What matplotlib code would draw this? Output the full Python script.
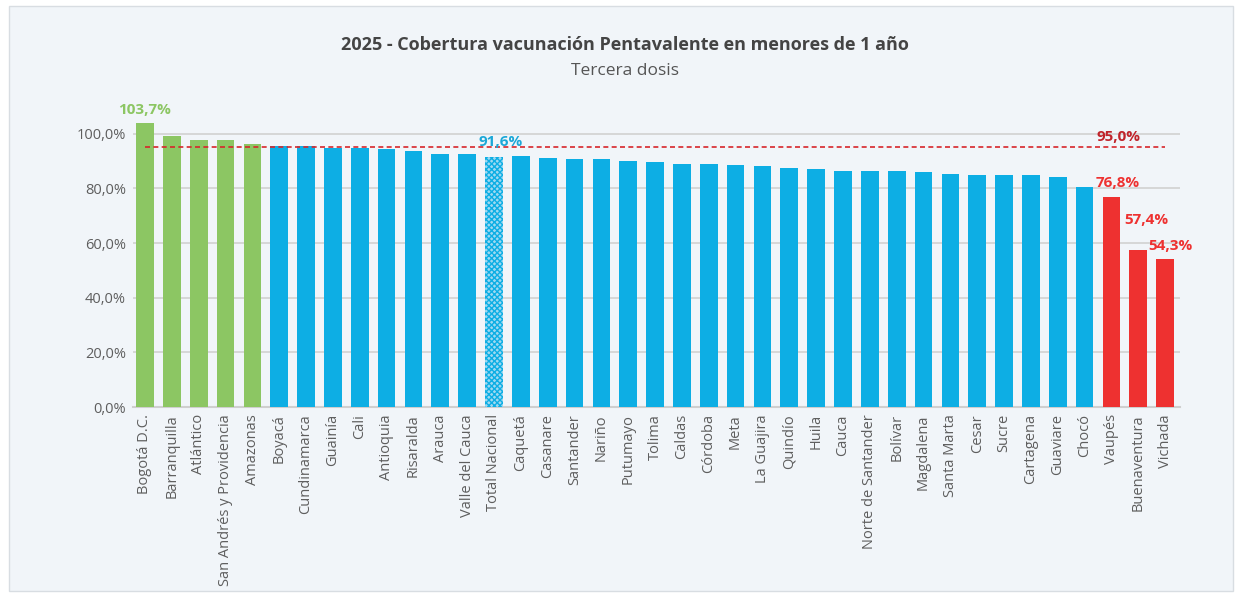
import matplotlib.pyplot as plt
from matplotlib.patches import Rectangle

# datos
departamentos = ['Bogotá D.C.', 'Barranquilla', 'Atlántico', 'San Andrés y Providencia', 'Amazonas',
                 'Boyacá', 'Cundinamarca', 'Guainía', 'Cali', 'Antioquia', 'Risaralda', 'Arauca',
                 'Valle del Cauca', 'Total Nacional', 'Caquetá', 'Casanare', 'Santander', 'Nariño',
                 'Putumayo', 'Tolima', 'Caldas', 'Córdoba', 'Meta', 'La Guajira', 'Quindío', 'Huila',
                 'Cauca', 'Norte de Santander', 'Bolívar', 'Magdalena', 'Santa Marta', 'Cesar', 'Sucre',
                 'Cartagena', 'Guaviare', 'Chocó', 'Vaupés', 'Buenaventura', 'Vichada']
cobertura = [103.7, 99.2, 97.8, 97.8, 96.3, 95.6, 95.3, 94.9, 94.8, 94.2, 93.7, 92.6,
             92.6, 91.6, 91.8, 91.2, 90.7, 90.7, 90.0, 89.7, 89.0, 89.0, 88.4, 88.3,
             87.3, 87.2, 86.5, 86.5, 86.2, 85.8, 85.2, 84.8, 84.7, 84.7, 84.1, 80.6,
             76.8, 57.4, 54.3]
grupo = ['alto'] * 5 + ['medio'] * 8 + ['total'] + ['medio'] * 22 + ['bajo'] * 3
meta = 95.0
yticks = [0, 20, 40, 60, 80, 100]

verde = '#8CC663'
azul = '#0DAEE4'
rojo = '#EE3130'
gris = '#5E5E5E'

plt.rcParams['font.family'] = ['Open Sans', 'DejaVu Sans']

fig = plt.figure(figsize=(12.42, 5.97), dpi=100, facecolor='white')
fig.patches.append(Rectangle((0.007, 0.01), 0.986, 0.98, transform=fig.transFigure,
                             facecolor='#F1F5F9', edgecolor='#D8DDE2', lw=1, zorder=-1))
ax = fig.add_axes([0.107, 0.318, 0.843, 0.504])
ax.set_facecolor('none')

x = list(range(len(departamentos)))
for i, v in enumerate(cobertura):
    g = grupo[i]
    if g == 'alto':
        ax.bar(i, v, 0.66, color=verde, zorder=3)
    elif g == 'bajo':
        ax.bar(i, v, 0.66, color=rojo, zorder=3)
    elif g == 'total':
        ax.bar(i, v, 0.66, facecolor='#9FD9F1', edgecolor=azul, hatch='xxxxxx', lw=0, zorder=3)
    else:
        ax.bar(i, v, 0.66, color=azul, zorder=3)

# linea de meta
ax.plot([0, len(x) - 1], [meta, meta], ls=(0, (3, 2)), color='#D7262B', lw=1.2, zorder=4)
ax.text(36.25, meta + 1.2, '95,0%', color='#C0232A', fontsize=11, fontweight='bold',
        ha='center', va='bottom', family=['Liberation Sans Narrow', 'Open Sans'])

# etiquetas
lbl = {0: (0, 2.5, verde), 13: (0.25, 2.6, '#1BA8D8'), 36: (0.25, 2.5, rojo),
       37: (0.3, 8.5, rojo), 38: (0.2, 2.0, rojo)}
for i, (dx, dy, c) in lbl.items():
    ax.text(i + dx, cobertura[i] + dy, f'{cobertura[i]:.1f}%'.replace('.', ','), color=c,
            fontsize=11, fontweight='bold', ha='center', va='bottom',
            family=['Liberation Sans Narrow', 'Open Sans'], zorder=5)

ax.set_xlim(-0.45, len(x) - 0.45)
ax.set_ylim(0, 110)
ax.set_yticks(yticks)
ax.set_yticklabels([f'{t:.1f}%'.replace('.', ',') for t in yticks], color=gris, fontsize=10.5)
ax.set_xticks(x)
ax.set_xticklabels(departamentos, rotation=90, color=gris, fontsize=10.5)
ax.tick_params(length=0, pad=5)
ax.grid(axis='y', color='#D4D4D4', lw=1.3, zorder=0)
for s in ['top', 'right', 'left']:
    ax.spines[s].set_visible(False)
ax.spines['bottom'].set_color('#CFCFCF')
ax.spines['bottom'].set_linewidth(1.5)

fig.text(0.503, 0.925, '2025 - Cobertura vacunación Pentavalente en menores de 1 año', ha='center',
         va='center', fontsize=13, fontweight='bold', color='#444444',
         family=['Liberation Sans Narrow', 'Open Sans'])
fig.text(0.503, 0.881, 'Tercera dosis', ha='center', va='center', fontsize=12.5, color='#555555',
         family=['Liberation Sans Narrow', 'Open Sans'])

fig.savefig('out.png', dpi=100, facecolor='white')
